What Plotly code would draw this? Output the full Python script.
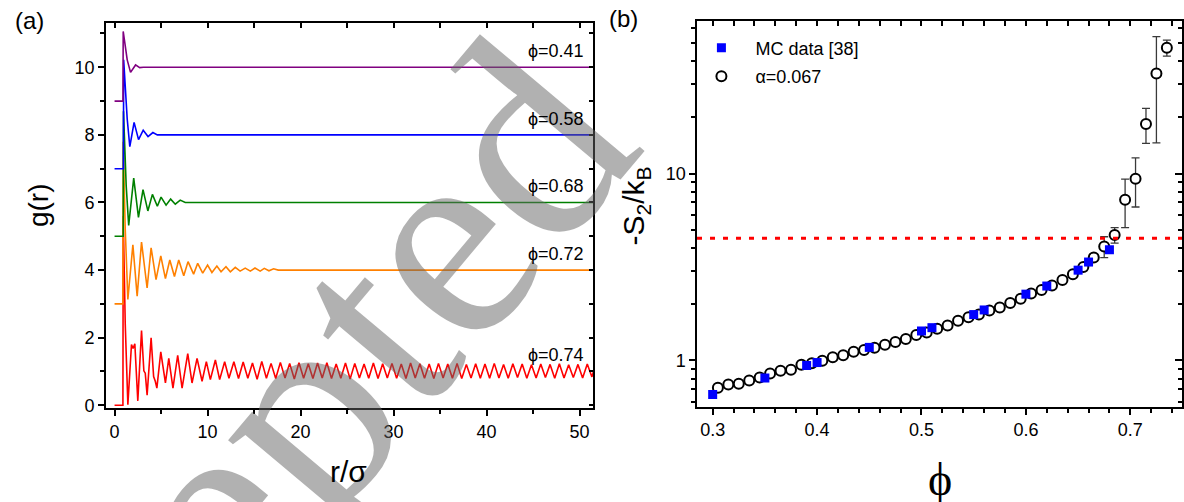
import numpy as np
import plotly.graph_objects as go

W, H = 1184, 502

# ---------------- panel (a): pair-distribution functions g(r) ----------------
curve_names = ["ϕ=0.74", "ϕ=0.72", "ϕ=0.68", "ϕ=0.58", "ϕ=0.41"]
curve_offsets = [0, 3, 5, 7, 9]
curve_colors = ["#ff0000", "#ff8000", "#008000", "#0000ff", "#800080"]

# (r/sigma, g(r)) pairs (g without vertical offset)
gr_074 = [(0, 0), (0.9, 0), (0.93, 5.6), (1.15, 2.4), (1.43, 0.02), (1.82, 1.80), (1.99, 1.68),
          (2.18, 1.82), (2.5, 0.13), (2.9, 2.21), (3.15, 1.02), (3.3, 0.95), (3.5, 0.30),
          (3.93, 2.00), (4.2, 0.85), (4.38, 0.71), (4.55, 0.51), (4.97, 1.58), (5.47, 0.66),
          (5.83, 1.39), (6.28, 0.51), (6.79, 1.48), (7.26, 0.51), (7.87, 1.53), (8.33, 0.66),
          (8.87, 1.39), (9.41, 0.71), (9.87, 1.29), (10.3, 0.76), (10.84, 1.34), (11.3, 0.76),
          (11.84, 1.29), (12.3, 0.80), (12.83, 1.29),
          (13.33, 0.79), (13.83, 1.28), (14.33, 0.80), (14.83, 1.25), (15.33, 0.77), (15.83, 1.30),
          (16.33, 0.80), (16.83, 1.24), (17.33, 0.79), (17.83, 1.27), (18.33, 0.81), (18.83, 1.24),
          (19.33, 0.78), (19.83, 1.26), (20.33, 0.80), (20.83, 1.23), (21.33, 0.79), (21.83, 1.25),
          (22.33, 0.81), (22.83, 1.26), (23.33, 0.79), (23.83, 1.22), (24.33, 0.80), (24.83, 1.25),
          (25.33, 0.78), (25.83, 1.24), (26.33, 0.81), (26.83, 1.22), (27.33, 0.80), (27.83, 1.25),
          (28.33, 0.79), (28.83, 1.23), (29.33, 0.81), (29.83, 1.24), (30.33, 0.80), (30.83, 1.22),
          (31.33, 0.79), (31.83, 1.25), (32.33, 0.81), (32.83, 1.23), (33.33, 0.80), (33.83, 1.22),
          (34.33, 0.79), (34.83, 1.24), (35.33, 0.81), (35.83, 1.22), (36.33, 0.80), (36.83, 1.24),
          (37.33, 0.79), (37.83, 1.21), (38.33, 0.81), (38.83, 1.23), (39.33, 0.80), (39.83, 1.22),
          (40.33, 0.80), (40.83, 1.24), (41.33, 0.81), (41.83, 1.21), (42.33, 0.80), (42.83, 1.23),
          (43.33, 0.82), (43.83, 1.22), (44.33, 0.80), (44.83, 1.20), (45.33, 0.81), (45.83, 1.22),
          (46.33, 0.82), (46.83, 1.21), (47.33, 0.80), (47.83, 1.23), (48.33, 0.81), (48.83, 1.20),
          (49.33, 0.82), (49.83, 1.21), (50.33, 0.81), (50.83, 1.22), (51.33, 0.84), (51.5, 1.0)]

gr_072 = [(0, 0), (0.9, 0), (0.93, 4.8), (1.15, 2.2), (1.43, 0.13), (1.82, 1.40), (1.97, 1.75),
          (2.43, 0.23), (2.9, 1.83), (3.5, 0.47), (3.93, 1.66), (4.46, 0.72), (4.97, 1.42),
          (5.47, 0.75), (5.94, 1.30), (6.44, 0.81), (6.9, 1.30), (7.44, 0.83), (7.9, 1.25),
          (8.5, 0.88), (8.94, 1.20), (9.48, 0.91), (10.0, 1.15), (10.47, 0.93), (11.0, 1.12),
          (11.45, 0.95), (11.98, 1.10), (12.45, 0.95), (12.98, 1.08), (13.5, 0.97), (14.05, 1.06),
          (14.6, 0.97), (15.1, 1.06), (15.66, 0.97), (16.1, 1.05), (16.6, 0.98), (17.1, 1.04),
          (17.6, 1.0), (51.5, 1.0)]

gr_068 = [(0, 0), (0.93, 0), (0.96, 3.7), (1.25, 1.5), (1.52, 0.32), (2.06, 1.72), (2.57, 0.56),
          (3.06, 1.38), (3.58, 0.75), (4.07, 1.24), (4.6, 0.89), (5.0, 1.16), (5.54, 0.92),
          (6.03, 1.10), (6.53, 0.95), (7.06, 1.07), (7.6, 1.0), (51.5, 1.0)]

gr_058 = [(0, 0), (0.95, 0), (0.98, 3.22), (1.36, 1.47), (1.64, 0.65), (2.1, 1.37), (2.58, 0.86),
          (3.08, 1.14), (3.6, 0.95), (4.12, 1.07), (4.6, 1.0), (51.5, 1.0)]

gr_041 = [(0, 0), (0.9, 0), (0.93, 2.06), (1.36, 1.22), (1.72, 0.85), (2.26, 1.07), (2.7, 0.99),
          (3.1, 1.0), (51.5, 1.0)]

curves = [gr_074, gr_072, gr_068, gr_058, gr_041]

# ---------------- panel (b): -S2/kB versus packing fraction ----------------
phi_mc = [0.30, 0.35, 0.39, 0.40, 0.45, 0.50, 0.51, 0.55, 0.56, 0.60, 0.62, 0.65, 0.66, 0.68]
s2_mc = [0.657, 0.805, 0.939, 0.974, 1.174, 1.437, 1.497, 1.759, 1.862, 2.262, 2.50, 3.04, 3.36, 3.91]

phi_alpha = [0.305, 0.315, 0.325, 0.335, 0.345, 0.355, 0.365, 0.375, 0.385, 0.395, 0.405,
             0.415, 0.425, 0.435, 0.445, 0.455, 0.465, 0.475, 0.485, 0.495, 0.505, 0.515,
             0.525, 0.535, 0.545, 0.555, 0.565, 0.575, 0.585, 0.595, 0.605, 0.615, 0.625,
             0.635, 0.645, 0.655, 0.665, 0.675, 0.685, 0.695, 0.705, 0.715, 0.725, 0.735]
s2_alpha = [0.713, 0.743, 0.751, 0.780, 0.811, 0.852, 0.881, 0.891, 0.947, 0.966, 0.996,
            1.040, 1.067, 1.111, 1.136, 1.169, 1.212, 1.254, 1.301, 1.369, 1.410, 1.478,
            1.539, 1.63, 1.70, 1.76, 1.85, 1.92, 2.03, 2.14, 2.28, 2.38, 2.52,
            2.69, 2.89, 3.16, 3.55, 4.07, 4.69, 7.23, 9.38, 18.4, 34.3, 47.1]
err_alpha = [0, 0, 0, 0, 0, 0, 0, 0, 0, 0, 0,
             0, 0, 0, 0, 0, 0, 0, 0, 0, 0, 0,
             0, 0, 0, 0, 0, 0, 0, 0, 0, 0, 0,
             0, 0, 0, 0.15, 0.52, 0.45, 2.1, 2.76, 3.9, 19.7, 4.6]
s2_threshold = 4.5

# ---------------- axis ranges / ticks ----------------
xa_range = [-0.93, 51.5]
ya_range = [-0.087, 11.32]
xb_range = [0.285, 0.7495]
yb_range_log = [-0.249, 1.814]
yb_major = [1, 10]
yb_minor = [0.6, 0.7, 0.8, 0.9, 2, 3, 4, 5, 6, 7, 8, 9, 20, 30, 40, 50, 60]

FONT = "Liberation Sans, Arial, sans-serif"
SERIF = "Liberation Serif, Times New Roman, serif"
NB = "\u00a0\u00a0"

fig = go.Figure()

for name, off, col, pts in zip(curve_names, curve_offsets, curve_colors, curves):
    r = np.array([p[0] for p in pts])
    g = np.array([p[1] for p in pts]) + off
    fig.add_trace(go.Scatter(x=r, y=g, mode="lines", line=dict(color=col, width=1.6),
                             showlegend=False, hoverinfo="skip", xaxis="x", yaxis="y"))

# dummy traces so the mirrored-tick axes are drawn
fig.add_trace(go.Scatter(x=[None], y=[None], xaxis="x3", yaxis="y", showlegend=False))
fig.add_trace(go.Scatter(x=[None], y=[None], xaxis="x", yaxis="y3", showlegend=False))
fig.add_trace(go.Scatter(x=[None], y=[None], xaxis="x4", yaxis="y2", showlegend=False))
fig.add_trace(go.Scatter(x=[None], y=[None], xaxis="x2", yaxis="y4", showlegend=False))

# panel (b) traces
fig.add_trace(go.Scatter(
    x=phi_alpha, y=s2_alpha, mode="markers", name=NB + "α=0.067",
    marker=dict(symbol="circle", size=10, color="white", line=dict(color="black", width=2)),
    error_y=dict(type="data", array=err_alpha, visible=True, color="#3a3a3a", thickness=1.3, width=4),
    xaxis="x2", yaxis="y2", legendgroup="b", legendrank=2))
fig.add_trace(go.Scatter(
    x=phi_mc, y=s2_mc, mode="markers", name=NB + "MC data [38]",
    marker=dict(symbol="square", size=9, color="#0000ff", line=dict(width=0)),
    xaxis="x2", yaxis="y2", legendgroup="a", legendrank=1))

ax_common = dict(showline=True, linecolor="black", linewidth=1.5, mirror=True, showgrid=False,
                 zeroline=False, tickcolor="black", tickwidth=1.5, tickfont=dict(size=18, family=FONT))
over_common = dict(showline=False, showgrid=False, zeroline=False, showticklabels=False,
                   ticks="inside", tickcolor="black", tickwidth=1.5)

fig.update_layout(
    width=W, height=H, margin=dict(l=0, r=0, t=0, b=0),
    paper_bgcolor="white", plot_bgcolor="white",
    font=dict(family=FONT, size=18, color="black"),
    xaxis=dict(domain=[106 / W, 594 / W], range=xa_range, anchor="y", ticks="outside", ticklen=6,
               tickmode="linear", tick0=0, dtick=10,
               minor=dict(ticks="outside", tick0=0, dtick=5, ticklen=4, tickwidth=1.5, tickcolor="black"),
               **ax_common),
    yaxis=dict(domain=[1 - 414 / H, 1 - 23 / H], range=ya_range, anchor="x", ticks="outside", ticklen=6,
               tickmode="linear", tick0=0, dtick=2,
               minor=dict(ticks="outside", tick0=0, dtick=1, ticklen=4, tickwidth=1.5, tickcolor="black"),
               **ax_common),
    xaxis3=dict(overlaying="x", anchor="y", side="top", range=xa_range, tickmode="linear", tick0=0,
                dtick=5, ticklen=5, **over_common),
    yaxis3=dict(overlaying="y", anchor="x", side="right", range=ya_range, tickmode="linear", tick0=0,
                dtick=1, ticklen=4, **over_common),
    xaxis2=dict(domain=[697.6 / W, 1183 / W], range=xb_range, anchor="y2", ticks="outside", ticklen=6,
                tickmode="linear", tick0=0.3, dtick=0.1, tickformat=".1f",
                minor=dict(ticks="outside", tick0=0.3, dtick=0.02, ticklen=4, tickwidth=1.5, tickcolor="black"),
                **ax_common),
    yaxis2=dict(domain=[1 - 412.7 / H, 1 - 21.7 / H], type="log", range=yb_range_log, anchor="x2",
                ticks="outside", ticklen=6, tickmode="array", tickvals=yb_major,
                ticktext=[str(v) for v in yb_major],
                minor=dict(ticks="outside", tickvals=yb_minor, ticklen=4, tickwidth=1.5, tickcolor="black"),
                **ax_common),
    xaxis4=dict(overlaying="x2", anchor="y2", side="top", range=xb_range, tickmode="linear", tick0=0.3,
                dtick=0.02, ticklen=5, **over_common),
    yaxis4=dict(overlaying="y2", anchor="x2", side="right", type="log", range=yb_range_log,
                tickmode="array", tickvals=yb_major, ticklen=7,
                minor=dict(ticks="inside", tickvals=yb_minor, ticklen=4, tickwidth=1.5, tickcolor="black"),
                **over_common),
    legend=dict(x=698 / W, y=1 - 30 / H, xanchor="left", yanchor="top", bgcolor="rgba(0,0,0,0)",
                font=dict(size=18, family=FONT), tracegroupgap=2, traceorder="grouped", itemwidth=38),
)

# red dotted threshold line
fig.add_shape(type="line", xref="x2 domain", yref="y2", x0=0, x1=1,
              y0=s2_threshold, y1=s2_threshold,
              line=dict(color="#ff0000", width=3, dash="5px,8px"))

# watermark
fig.add_annotation(text="Accepted", x=221 / W, y=1 - 512 / H, xref="paper", yref="paper",
                   showarrow=False, textangle=-50, xanchor="center", yanchor="middle",
                   font=dict(family=SERIF, size=290, color="rgba(100,100,100,0.5)"))

# curve labels
for name, off in zip(curve_names, curve_offsets):
    fig.add_annotation(text=name, x=50.67, y=off + 1.48, xref="x", yref="y", showarrow=False,
                       xanchor="right", yanchor="middle", font=dict(size=18, family=FONT))

def label(text, xp, yp, size, family=FONT, angle=0, xanchor="center", yanchor="middle"):
    fig.add_annotation(text=text, x=xp / W, y=1 - yp / H, xref="paper", yref="paper", showarrow=False,
                       textangle=angle, xanchor=xanchor, yanchor=yanchor,
                       font=dict(size=size, family=family))

label("g(r)", 38, 208, 28, angle=-90)
label("r/σ", 349, 478, 30)
label("-S<sub>2</sub>/k<sub>B</sub>", 636, 209, 30, angle=-90)
label("ϕ", 941, 458, 46, family=SERIF, yanchor="top")
label("(a)", 30, 21, 24)
label("(b)", 624, 19, 24)

fig.write_html("out.html", config={"displayModeBar": False},
               post_script="document.body.style.margin='0px';document.body.style.padding='0px';")
